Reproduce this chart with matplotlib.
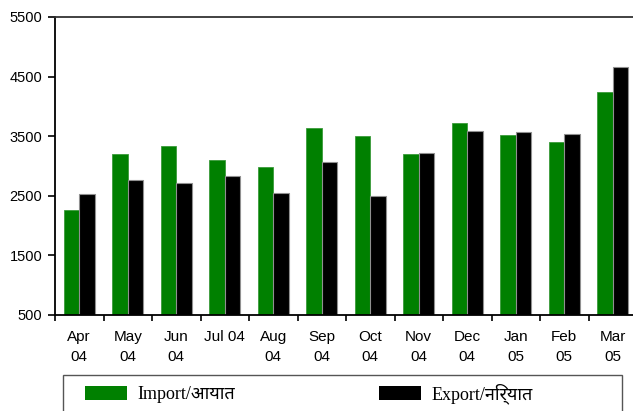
import matplotlib
matplotlib.use("Agg")
import numpy as np
from matplotlib import pyplot as plt
from matplotlib.patches import Rectangle

# month labels and values
months = ["Apr\n04", "May\n04", "Jun\n04", "Jul 04", "Aug\n04", "Sep\n04",
          "Oct\n04", "Nov\n04", "Dec\n04", "Jan\n05", "Feb\n05", "Mar\n05"]
imports = [2260, 3200, 3340, 3095, 2980, 3630, 3505, 3200, 3715, 3515, 3410, 4235]
exports = [2530, 2770, 2720, 2825, 2540, 3075, 2490, 3225, 3590, 3575, 3535, 4660]
yticks = [500, 1500, 2500, 3500, 4500, 5500]

import_label = "Import/आयात"
export_label = "Export/निर्यात"

green = "#008000"
W, H = 633, 411

fig = plt.figure(figsize=(W / 100, H / 100), dpi=100)
# axes run slightly past the right edge, like the reference
ax = fig.add_axes([55 / W, 1 - 315 / H, 582 / W, 298 / H])

x = np.arange(len(months))
w = 0.315
b1 = ax.bar(x - w / 2, np.array(imports) - 500, w, bottom=500, color=green,
            edgecolor="#3a9a3a", linewidth=0.6)
b2 = ax.bar(x + w / 2, np.array(exports) - 500, w, bottom=500, color="black",
            edgecolor="#909090", linewidth=0.8)

ax.set_xlim(-0.5, len(months) - 0.5)
ax.set_ylim(500, 5500)
ax.set_yticks(yticks)
ax.set_yticklabels([str(v) for v in yticks], fontsize=10.5, family="Liberation Sans")
ax.set_xticks(x)
ax.set_xticklabels(months, fontsize=11, family="Liberation Sans", linespacing=1.55,
                   va="top")
ax.set_xticks(np.arange(-0.5, len(months)), minor=True)
ax.tick_params(axis="x", which="major", length=0, pad=11)
ax.tick_params(axis="x", which="minor", length=4, width=1.2, direction="out")
ax.tick_params(axis="y", length=5, width=1.2, direction="out", pad=4)

for s in ax.spines.values():
    s.set_linewidth(1.3)
ax.spines["top"].set_color("#333333")

# legend frame, cut off at the bottom of the picture
fig.patches.append(Rectangle((63 / W, -0.1), (622 - 63) / W, (H - 375) / H + 0.1,
                             transform=fig.transFigure, fill=False,
                             edgecolor="#555555", linewidth=1.0))

fsize = 13
lfont = {"family": ["Liberation Serif", "Noto Sans Devanagari"], "size": fsize}


def make_legend(colsp):
    lg = fig.legend([b1, b2], [import_label, export_label], loc="upper left",
                    bbox_to_anchor=(85 / W, 1 - 383 / H), frameon=False, ncol=2,
                    borderpad=0, borderaxespad=0, handlelength=2.3, handleheight=0.78,
                    handletextpad=0.6, columnspacing=colsp, prop=lfont)
    for h in lg.legend_handles:
        h.set_edgecolor("none")
    return lg


# place the second entry so its box starts near x=379 px
leg = make_legend(2.0)
fig.canvas.draw()
r = fig.canvas.get_renderer()
txt_end = leg.get_texts()[0].get_window_extent(r).x1
leg.remove()
em = fsize * 100 / 72
leg = make_legend((379 - txt_end) / em)

fig.savefig("out.png", dpi=100)
